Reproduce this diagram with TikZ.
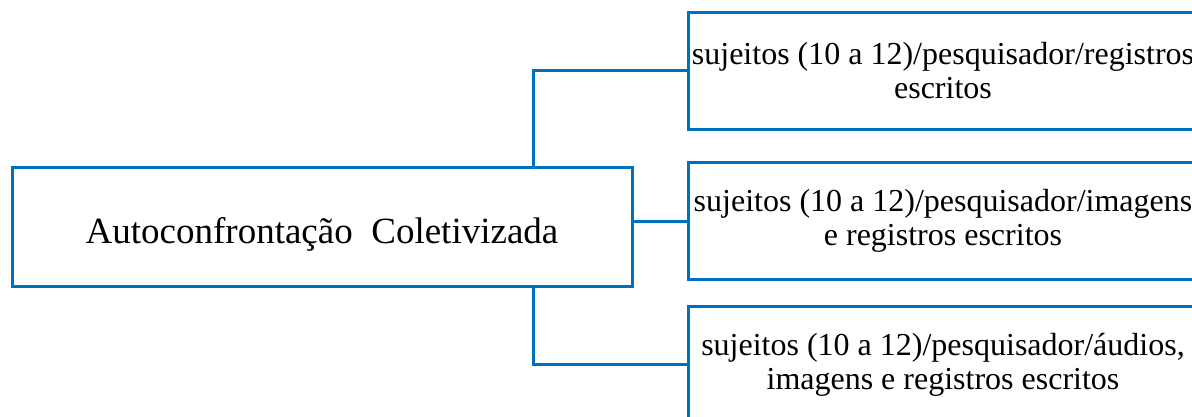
\documentclass[tikz,border=0pt]{standalone}
\usepackage{fontspec}
\setmainfont{Liberation Serif}
\newfontfamily\timesfont{Liberation Serif}
\usepackage{xcolor}
\usetikzlibrary{calc}
\definecolor{wordblue}{RGB}{0,112,192}

\begin{document}
\begin{tikzpicture}[x=1pt,y=-1pt]
        \useasboundingbox (0,0) rectangle (1192,416);
        \clip (0,0) rectangle (1192,416);
        \tikzset{mainbox/.style={draw=wordblue,line width=3pt,minimum width=620pt,minimum height=119pt,text height=33pt,text depth=0pt,font=\timesfont\fontsize{37}{42}\selectfont},
                 subbox/.style={draw=wordblue,line width=3pt,minimum width=510pt,minimum height=117pt,align=center,font=\timesfont\fontsize{32}{34}\selectfont},
                 link/.style={draw=wordblue,line width=3pt}}
        \node[mainbox] (ac) at (322,226.5) {Autoconfrontação\ \ Coletivizada};
        \node[subbox] (reg) at (943,70.5) {sujeitos (10 a 12)/pesquisador/registros\\escritos};
        \node[subbox] (img) at (943,221) {sujeitos (10 a 12)/pesquisador/imagens\\e registros escritos};
        \node[subbox] (aud) at (943,364.5) {sujeitos (10 a 12)/pesquisador/áudios,\\imagens e registros escritos};
        \coordinate (up) at ($(ac.north west)!0.84!(ac.north east)$);
        \coordinate (down) at ($(ac.south west)!0.84!(ac.south east)$);
        \draw[link] (up) |- (reg.west);
        \draw[link] (img.west) -- (img.west -| ac.east);
        \draw[link] (down) |- (aud.west);
    \end{tikzpicture}
\end{document}
